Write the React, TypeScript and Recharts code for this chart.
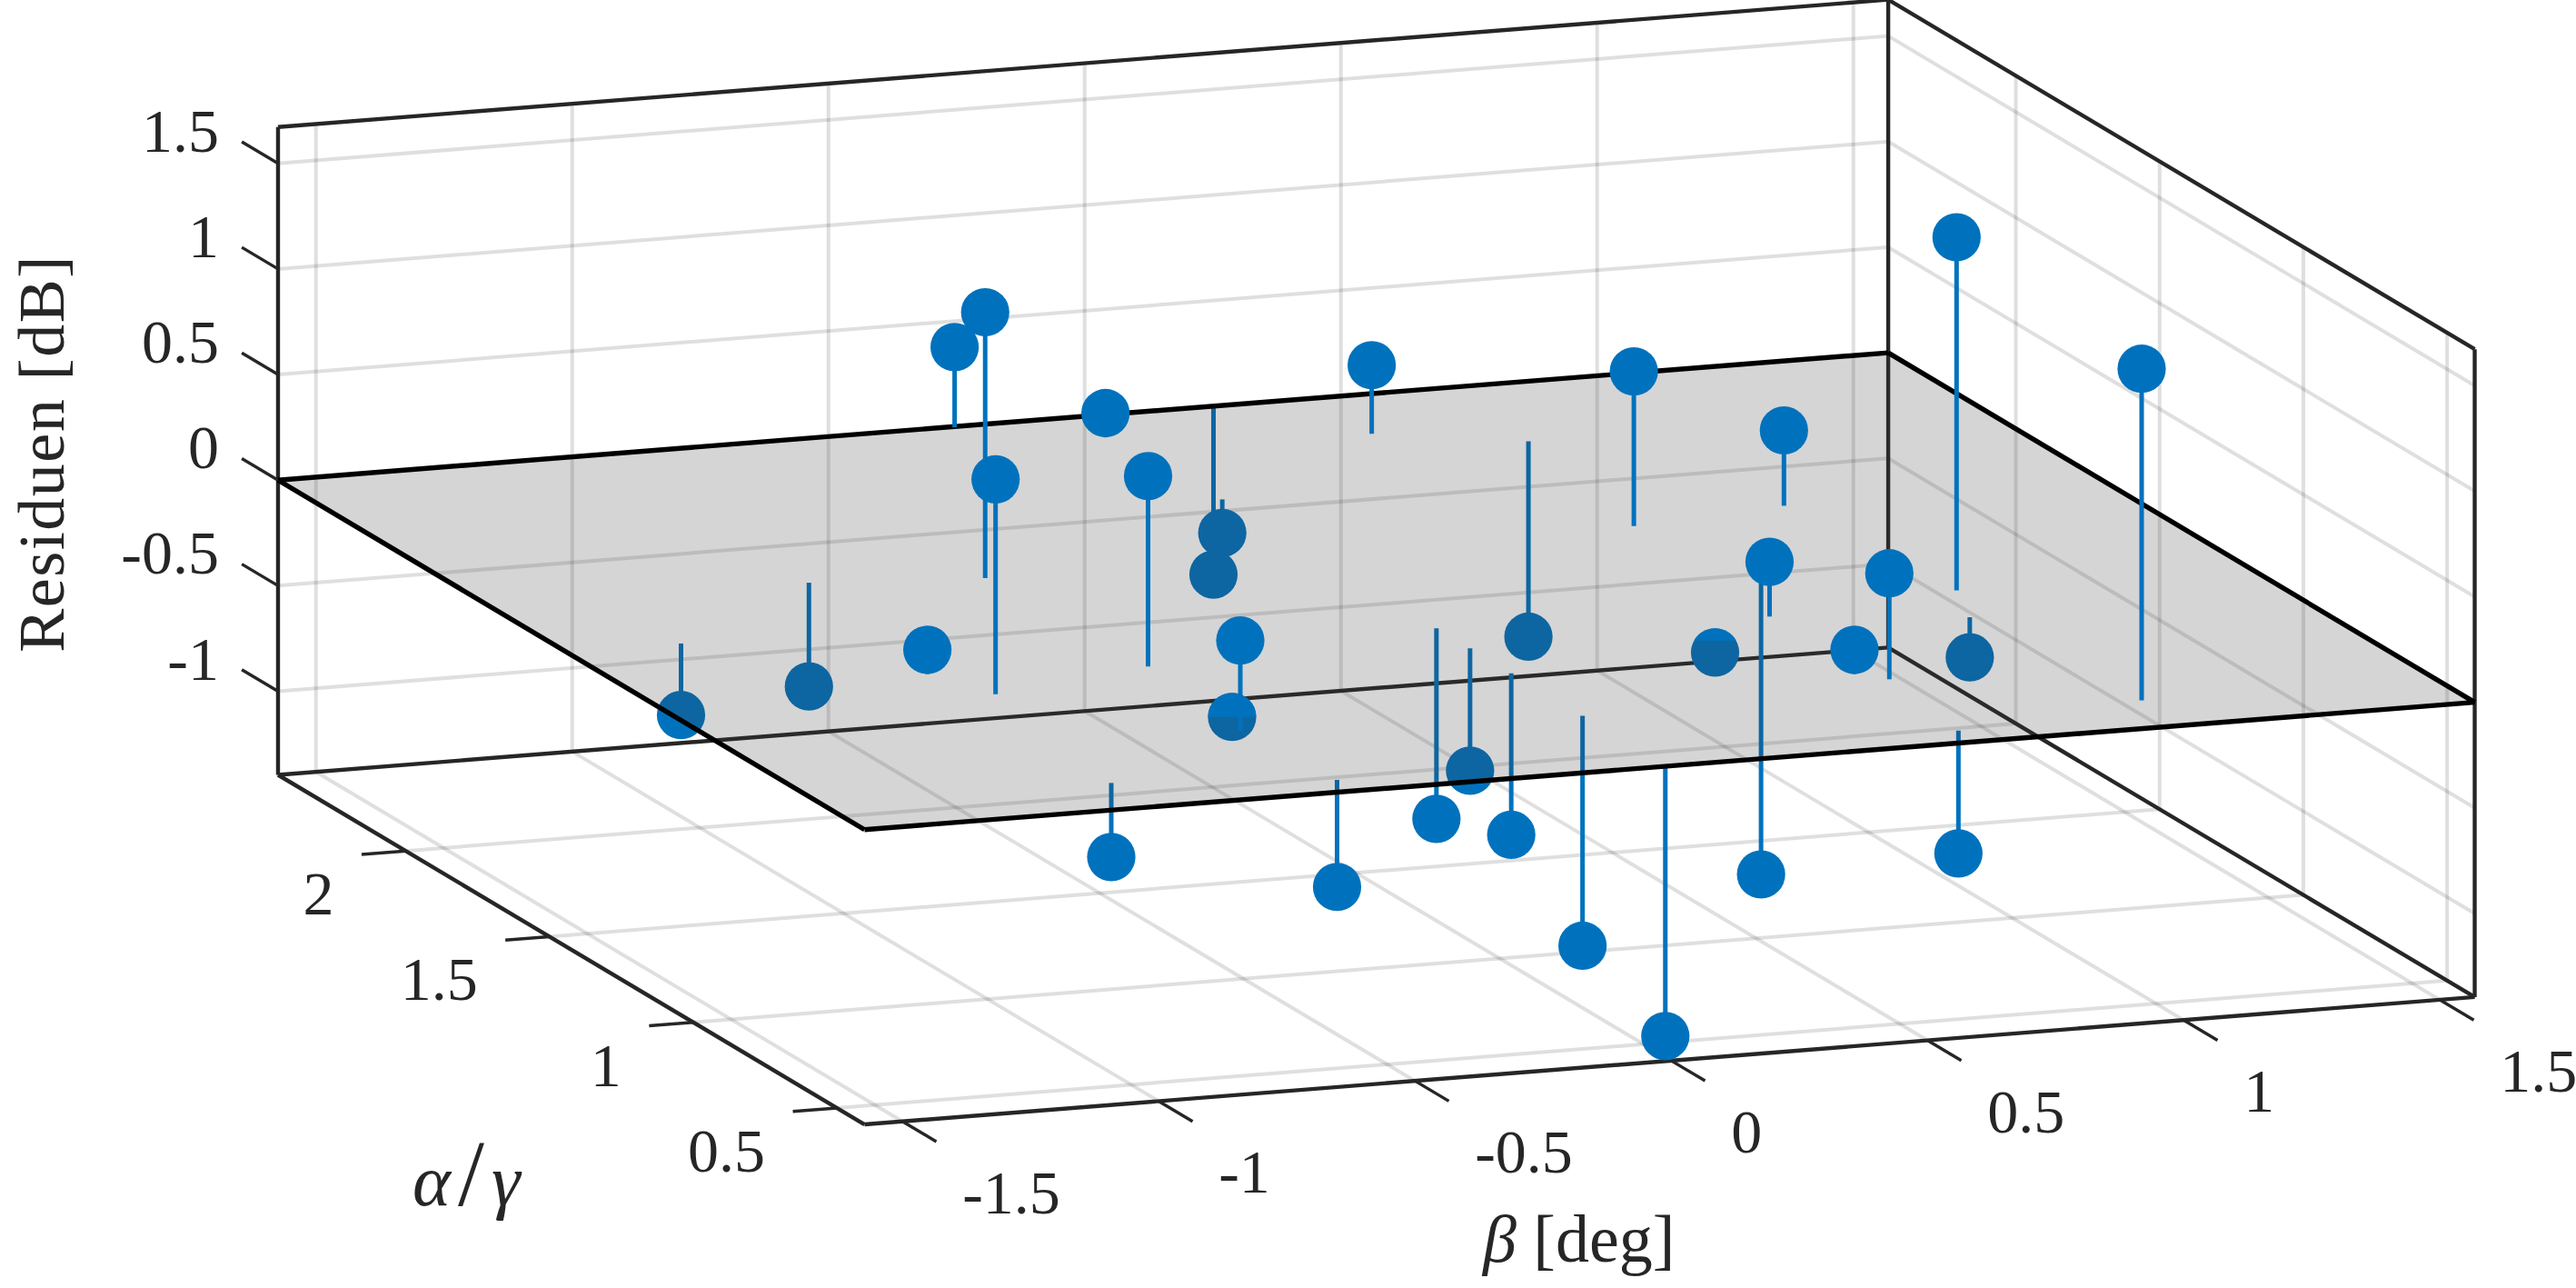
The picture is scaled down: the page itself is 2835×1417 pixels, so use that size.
import { Area, ComposedChart, Line, Scatter, XAxis, YAxis } from 'recharts';

const betaValues = [-1.352, -0.956, -0.256, -0.639, -0.957, -0.025, -0.614, 0.248, -0.003, -0.641, -0.615, -1.016, 0.444, 0.692, -0.007, -0.007, -0.008, -1.014, -0.616, -0.008, -0.008, 0.682, 0.601, 0.629, 0.946, 0.438, 0.581, 0.626, 0.944, 0.999, 1.0, 0.597];
const alphaValues = [1.438, 1.699, 2.44, 1.651, 1.048, 2.327, 1.129, 2.438, 1.96, 0.76, 0.835, 1.18, 2.237, 2.134, 1.208, 1.091, 0.946, 0.544, 0.468, 0.698, 0.41, 1.307, 1.133, 1.655, 1.698, 1.032, 0.802, 0.761, 1.048, 1.192, 0.55, 0.469];
const residuals = [-0.339, -0.491, 0.38, 1.259, 1.018, 0.115, 0.902, -0.792, -0.159, 0.428, 0, 0.115, 0.325, -0.925, -0.902, -0.579, -0.765, -0.351, -0.507, -1.089, -1.283, -1.378, 0.259, 0.732, 0.357, -0.057, 0.115, 0.502, -0.19, 1.672, 1.57, -0.582];

const betaTicks = [-1.5, -1, -0.5, 0, 0.5, 1, 1.5];
const alphaTicks = [0.5, 1, 1.5, 2];
const zTicks = [-1, -0.5, 0, 0.5, 1, 1.5];

const betaRange = [-1.574, 1.568];
const alphaRange = [0.404, 2.444];
const zRange = [-1.396, 1.672];

const WIDTH = 2835;
const HEIGHT = 1417;
const BLUE = '#0072BD';
const DARK = '#262626';
const MARKER_R = 26.6;
const Z_SCALE = 232.3;

// fixed MATLAB style view, orthographic
const project = (b: number, a: number, z: number) => ({
  x: 1967 + 564 * b - 316.4 * a,
  y: 918.7 - 44.6 * b - 188.5 * a - Z_SCALE * z,
});

const [bMin, bMax] = betaRange;
const [aMin, aMax] = alphaRange;
const [zMin, zMax] = zRange;

type Pt = { x: number; y: number };
const seg = (p: number[], q: number[]): Pt[] => [project(p[0], p[1], p[2]), project(q[0], q[1], q[2])];

const gridSegments = [
  ...betaTicks.map((b) => seg([b, aMax, zMin], [b, aMax, zMax])),
  ...zTicks.map((z) => seg([bMin, aMax, z], [bMax, aMax, z])),
  ...alphaTicks.map((a) => seg([bMax, a, zMin], [bMax, a, zMax])),
  ...zTicks.map((z) => seg([bMax, aMin, z], [bMax, aMax, z])),
  ...betaTicks.map((b) => seg([b, aMin, zMin], [b, aMax, zMin])),
  ...alphaTicks.map((a) => seg([bMin, a, zMin], [bMax, a, zMin])),
];

const boxSegments = [
  seg([bMin, aMax, zMin], [bMin, aMax, zMax]),
  seg([bMax, aMax, zMin], [bMax, aMax, zMax]),
  seg([bMax, aMin, zMin], [bMax, aMin, zMax]),
  seg([bMin, aMax, zMax], [bMax, aMax, zMax]),
  seg([bMax, aMax, zMax], [bMax, aMin, zMax]),
  seg([bMin, aMin, zMin], [bMax, aMin, zMin]),
  seg([bMin, aMin, zMin], [bMin, aMax, zMin]),
  seg([bMin, aMax, zMin], [bMax, aMax, zMin]),
  seg([bMax, aMax, zMin], [bMax, aMin, zMin]),
];

const tickSegments = [
  ...zTicks.map((z) => seg([bMin, aMax, z], [bMin, aMax + 0.126, z])),
  ...alphaTicks.map((a) => seg([bMin, a, zMin], [bMin - 0.086, a, zMin])),
  ...betaTicks.map((b) => seg([b, aMin, zMin], [b, aMin - 0.118, zMin])),
];

const pL = project(bMin, aMax, 0);
const pF = project(bMin, aMin, 0);
const pB = project(bMax, aMax, 0);
const pR = project(bMax, aMin, 0);
const planeEdges = [[pL, pB], [pB, pR], [pR, pF], [pF, pL]];
const edgeY = (p: Pt, q: Pt, x: number) => p.y + ((q.y - p.y) * (x - p.x)) / (q.x - p.x);
const planeData = [
  { x: pL.x, range: [pL.y, pL.y] },
  { x: pF.x, range: [edgeY(pL, pB, pF.x), pF.y] },
  { x: pB.x, range: [pB.y, edgeY(pF, pR, pB.x)] },
  { x: pR.x, range: [pR.y, pR.y] },
];

const points = betaValues.map((b, i) => ({
  ...project(b, alphaValues[i], residuals[i]),
  base: project(b, alphaValues[i], 0),
  z: residuals[i],
}));
const stem = (p: (typeof points)[number]): Pt[] => [{ x: p.x, y: p.y }, p.base];
const below = points.filter((p) => p.z < 0);
const above = points.filter((p) => p.z > 0);

const textRows = [
  ...zTicks.map((z) => {
    const p = project(bMin, aMax, z);
    return { x: 241, y: p.y - 13, label: String(z), anchor: 'end' };
  }),
  ...alphaTicks.map((a) => {
    const p = project(bMin, a, zMin);
    return { x: p.x - 79, y: p.y + 70, label: String(a), anchor: 'end' };
  }),
  ...betaTicks.map((b) => {
    const p = project(b, aMin, zMin);
    return { x: p.x + 66, y: p.y + 101, label: String(b), anchor: 'start' };
  }),
];

const Label = (props: any) => (
  <text x={props.cx} y={props.cy} textAnchor={props.payload.anchor} fontFamily="Liberation Serif" fontSize={68} fill={DARK}>
    {props.payload.label}
  </text>
);

const Disc = (props: any) => <circle cx={props.cx} cy={props.cy} r={MARKER_R} fill={BLUE} />;

// the part of a marker that sticks out above the plane
const Cap = (props: any) => {
  const dy = props.payload.z * Z_SCALE;
  if (dy >= MARKER_R) return <circle cx={props.cx} cy={props.cy} r={MARKER_R} fill={BLUE} />;
  const w = Math.sqrt(MARKER_R * MARKER_R - dy * dy);
  const yc = props.cy + dy;
  return <path d={`M${props.cx - w},${yc}A${MARKER_R},${MARKER_R} 0 ${dy > 0 ? 1 : 0} 1 ${props.cx + w},${yc}Z`} fill={BLUE} />;
};

const Titles = (props: any) => {
  const { kind } = props.payload;
  if (kind === 'z') {
    return (
      <text transform={`translate(${props.cx},${props.cy}) rotate(-90)`} textAnchor="middle" fontFamily="Liberation Serif" fontSize={72} letterSpacing={1.5} fill={DARK}>
        Residuen [dB]
      </text>
    );
  }
  if (kind === 'alpha') {
    return (
      <text x={props.cx} y={props.cy} fontFamily="Liberation Serif" fontSize={80} fill={DARK}>
        <tspan fontStyle="italic">α</tspan>
        <tspan dx={8} fontSize={104}>/</tspan>
        <tspan dx={8} fontStyle="italic">γ</tspan>
      </text>
    );
  }
  return (
    <text x={props.cx} y={props.cy} fontFamily="Liberation Serif" fontSize={74} fill={DARK}>
      <tspan fontStyle="italic">β</tspan> [deg]
    </text>
  );
};

const titleRows = [
  { x: 70, y: 499, kind: 'z' },
  { x: 454, y: 1326, kind: 'alpha' },
  { x: 1632, y: 1388, kind: 'beta' },
];

const segLine = (data: Pt[], key: string, stroke: string, strokeWidth: number, zIndex: number, opacity = 1) => (
  <Line
    key={key}
    data={data}
    dataKey="y"
    type="linear"
    stroke={stroke}
    strokeOpacity={opacity}
    strokeWidth={strokeWidth}
    dot={false}
    activeDot={false}
    legendType="none"
    isAnimationActive={false}
    zIndex={zIndex}
  />
);

export default function App() {
  return (
    <div style={{ position: 'fixed', left: 0, top: 0, width: WIDTH, height: HEIGHT, background: '#fff' }}>
      <ComposedChart width={WIDTH} height={HEIGHT} margin={{ top: 0, right: 0, bottom: 0, left: 0 }}>
        <XAxis type="number" dataKey="x" domain={[0, WIDTH]} hide allowDataOverflow />
        <YAxis type="number" dataKey="y" domain={[0, HEIGHT]} reversed hide allowDataOverflow />

        {gridSegments.map((s, i) => segLine(s, `grid${i}`, DARK, 4, 10, 0.15))}
        {boxSegments.map((s, i) => segLine(s, `box${i}`, DARK, 4.4, 11))}
        {tickSegments.map((s, i) => segLine(s, `tick${i}`, DARK, 3.4, 11))}

        {below.map((p, i) => segLine(stem(p), `low${i}`, BLUE, 5, 20))}
        <Scatter data={points.filter((p) => p.z < MARKER_R / Z_SCALE)} dataKey="y" shape={Disc} isAnimationActive={false} zIndex={21} />

        <Area
          data={planeData}
          dataKey="range"
          type="linear"
          stroke="none"
          fill="#3c3c3c"
          fillOpacity={0.216}
          dot={false}
          activeDot={false}
          isAnimationActive={false}
          zIndex={30}
        />
        {planeEdges.map((s, i) => segLine(s, `edge${i}`, '#000', 5.4, 31))}

        {above.map((p, i) => segLine(stem(p), `high${i}`, BLUE, 5, 40))}
        <Scatter data={points.filter((p) => p.z > -MARKER_R / Z_SCALE)} dataKey="y" shape={Cap} isAnimationActive={false} zIndex={41} />

        <Scatter data={textRows} dataKey="y" shape={Label} isAnimationActive={false} zIndex={50} />
        <Scatter data={titleRows} dataKey="y" shape={Titles} isAnimationActive={false} zIndex={50} />
      </ComposedChart>
    </div>
  );
}
